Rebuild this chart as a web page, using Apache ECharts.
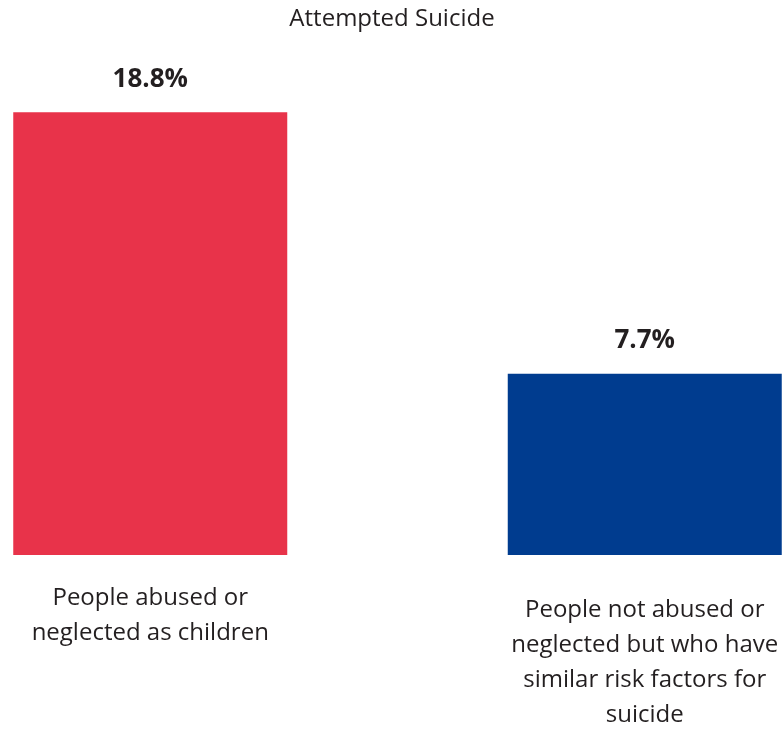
<!DOCTYPE html>
<html>
<head>
<meta charset="utf-8">
<script src="https://cdn.jsdelivr.net/npm/echarts@6/dist/echarts.min.js"></script>
<style>
  html, body { margin: 0; padding: 0; background: #ffffff; }
  #chart { width: 784px; height: 730px; }
</style>
</head>
<body>
<div id="chart"></div>
<script>
// Share of people who attempted suicide, by group
const categories = [
  'People abused or\nneglected as children',
  'People not abused or\nneglected but who have\nsimilar risk factors for\nsuicide'
];
const values = [18.8, 7.7];
const barColors = ['#E8334A', '#003C8F'];
const titleText = 'Attempted Suicide';

const textColor = '#231f20';
const fontFamily = '"Open Sans", "Noto Sans", sans-serif';

const chart = echarts.init(document.getElementById('chart'), null, { renderer: 'canvas' });

chart.setOption({
  animation: false,
  title: {
    text: titleText,
    left: 'center',
    top: 2,
    textStyle: { fontFamily, fontWeight: 'normal', fontSize: 24, color: textColor }
  },
  grid: {
    left: -97, right: -108, top: 84, bottom: 175,
    containLabel: false,
    outerBoundsMode: 'none'
  },
  xAxis: {
    type: 'category',
    data: categories.map((c, i) => ({
      value: c,
      textStyle: { padding: [i === 0 ? 0 : 12, 0, 0, 0] }
    })),
    axisLine: { show: false },
    axisTick: { show: false },
    axisLabel: {
      interval: 0,
      margin: 26,
      fontFamily,
      fontSize: 24,
      lineHeight: 35,
      color: textColor,
      align: 'center',
      verticalAlign: 'top'
    }
  },
  yAxis: {
    type: 'value',
    min: 0,
    max: 20,
    show: false,
    splitLine: { show: false }
  },
  series: [{
    type: 'bar',
    barWidth: 274,
    data: values.map((v, i) => ({ value: v, itemStyle: { color: barColors[i] } })),
    label: {
      show: true,
      position: 'top',
      distance: 20,
      formatter: '{c}%',
      fontFamily,
      fontWeight: 'bold',
      fontSize: 26,
      color: textColor
    }
  }]
});
</script>
</body>
</html>
